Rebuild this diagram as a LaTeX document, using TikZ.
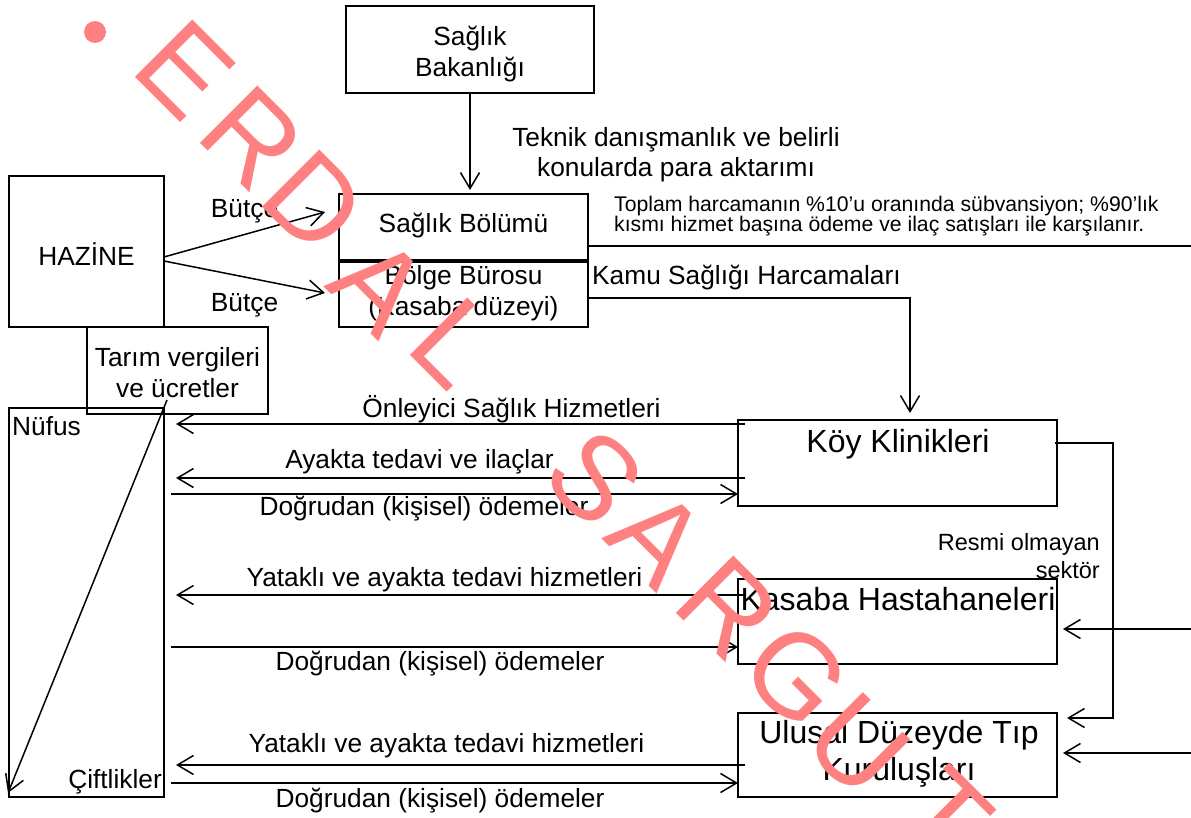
\documentclass[tikz,border=0pt]{standalone}
\usepackage{fontspec}
\setmainfont{Liberation Sans}
\usetikzlibrary{arrows.meta}
\definecolor{wmred}{RGB}{255,128,128}
\begin{document}
\begin{tikzpicture}[x=1pt,y=-1pt,
  box/.style={draw, line width=1.6pt, inner sep=0pt},
  conn/.style={line width=1.5pt, -{Straight Barb[length=16pt,width=19pt]}},
  plain/.style={line width=1.5pt},
  lbl/.style={anchor=base, inner sep=0pt, font=\fontsize{26.3}{30}\selectfont},
  lbll/.style={lbl, anchor=base west},
  lblr/.style={lbl, anchor=base east},
  sml/.style={anchor=base west, inner sep=0pt, font=\fontsize{21.2}{24}\selectfont},
  mid/.style={anchor=base east, inner sep=0pt, font=\fontsize{23.5}{28}\selectfont},
  big/.style={anchor=base, inner sep=0pt, font=\fontsize{32}{38}\selectfont},
  wm/.style={text=wmred, inner sep=0pt, rotate=-45, font=\fontsize{118}{120}\selectfont}
]
\useasboundingbox (0,0) rectangle (1191,818);

% boxes
\node[box, minimum width=248pt, minimum height=87pt] (bak) at (470,49.5) {};
\node[box, minimum width=155pt, minimum height=151pt] (haz) at (86.5,251.5) {};
\node[box, minimum width=249pt, minimum height=66pt] (sb) at (463.5,227) {};
\node[box, minimum width=249pt, minimum height=65pt] (bb) at (463.5,294.5) {};
\node[box, minimum width=155pt, minimum height=389pt] (nuf) at (86.5,602.5) {};
\node[box, minimum width=181pt, minimum height=87pt] (tar) at (177.5,370.5) {};
\node[box, minimum width=319pt, minimum height=86pt] (koy) at (897.5,463) {};
\node[box, minimum width=319pt, minimum height=85pt] (kas) at (897.5,621.5) {};
\node[box, minimum width=319pt, minimum height=84pt] (ulu) at (897.5,755) {};

% texts
\node[lbl] (bakt1) at (470,46) {Sağlık};
\node[lbl] (bakt2) at (470,77) {Bakanlığı};
\node[lbl] (tek1) at (676,147) {Teknik danışmanlık ve belirli};
\node[lbl] (tek2) at (676,177) {konularda para aktarımı};
\node[lbl] (hazt) at (86.5,266) {HAZİNE};
\node[lbl] (but1) at (244.5,218) {Bütçe};
\node[lbl] (but2) at (244.5,311) {Bütçe};
\node[lbl] (sbt) at (463.5,233) {Sağlık Bölümü};
\node[lbl] (bbt1) at (463.5,284) {Bölge Bürosu};
\node[lbl] (bbt2) at (463.5,316) {(Kasaba düzeyi)};
\node[sml] (top1) at (614,212) {Toplam harcamanın \%10’u oranında sübvansiyon; \%90’lık};
\node[sml] (top2) at (614,232) {kısmı hizmet başına ödeme ve ilaç satışları ile karşılanır.};
\node[lbll] (kamu) at (592,285) {Kamu Sağlığı Harcamaları};
\node[lbl] (tar1) at (177.5,366) {Tarım vergileri};
\node[lbl] (tar2) at (177.5,397) {ve ücretler};
\node[lbll] (nuft) at (12,435) {Nüfus};
\node[lblr] (cift) at (162,788) {Çiftlikler};
\node[big] (koyt) at (898,452) {Köy Klinikleri};
\node[big] (kast) at (898,610) {Kasaba Hastahaneleri};
\node[big] (ulut1) at (899,743) {Ulusal Düzeyde Tıp};
\node[big] (ulut2) at (899,780) {Kuruluşları};
\node[mid] (res1) at (1100,550) {Resmi olmayan};
\node[mid] (res2) at (1100,578) {sektör};
\node[lbl] (l1) at (511.5,417) {Önleyici Sağlık Hizmetleri};
\node[lbl] (l2) at (419.5,468) {Ayakta tedavi ve ilaçlar};
\node[lbl] (l3) at (424,515) {Doğrudan (kişisel) ödemeler};
\node[lbl] (l4) at (444.5,586) {Yataklı ve ayakta tedavi hizmetleri};
\node[lbl] (l5) at (440,670) {Doğrudan (kişisel) ödemeler};
\node[lbl] (l6) at (446.5,752) {Yataklı ve ayakta tedavi hizmetleri};
\node[lbl] (l7) at (440,807) {Doğrudan (kişisel) ödemeler};

% connector end points
\coordinate (sbtop) at (470,190);
\coordinate (h1) at (164,257);
\coordinate (h2) at (164,261);
\coordinate (bt1) at (325,212);
\coordinate (bt2) at (325,293);
\coordinate (sbr) at (588,246);
\coordinate (edge1) at (1191,246);
\coordinate (bbr) at (588,298);
\coordinate (kbend) at (910,298);
\coordinate (koytop) at (910,413);
\coordinate (dg1) at (167,400);
\coordinate (dg2) at (8,793);
\coordinate (kr1) at (1055,443);
\coordinate (kr2) at (1113,443);
\coordinate (kr3) at (1113,718);
\coordinate (ulr) at (1067,718);
\coordinate (e2) at (1191,629);
\coordinate (kasr) at (1063,629);
\coordinate (e3) at (1191,753);
\coordinate (ulr2) at (1063,753);
\coordinate (a1s) at (745,424);  \coordinate (a1e) at (176,424);
\coordinate (a2s) at (745,478);  \coordinate (a2e) at (176,478);
\coordinate (a3s) at (171,494);  \coordinate (a3e) at (738,494);
\coordinate (a4s) at (745,595);  \coordinate (a4e) at (176,595);
\coordinate (a5s) at (171,647);  \coordinate (a5e) at (738,647);
\coordinate (a6s) at (745,765);  \coordinate (a6e) at (176,765);
\coordinate (a7s) at (171,783);  \coordinate (a7e) at (738,783);

% connectors
\draw[conn] (bak.south) -- (sbtop);
\draw[conn] (h1) -- (bt1);
\draw[conn] (h2) -- (bt2);
\draw[plain] (sbr) -- (edge1);
\draw[conn] (bbr) -- (kbend) -- (koytop);
\draw[conn] (dg1) -- (dg2);
\draw[conn] (kr1) -- (kr2) -- (kr3) -- (ulr);
\draw[conn] (e2) -- (kasr);
\draw[conn] (e3) -- (ulr2);
\draw[conn] (a1s) -- (a1e);
\draw[conn] (a2s) -- (a2e);
\draw[conn] (a3s) -- (a3e);
\draw[conn] (a4s) -- (a4e);
\draw[conn] (a5s) -- (a5e);
\draw[conn] (a6s) -- (a6e);
\draw[conn] (a7s) -- (a7e);

% watermark
\node[circle, fill=wmred, minimum size=22pt, inner sep=0pt] (wmdot) at (95,32) {};
\node[wm] (w1) at (185,70) {E};
\node[wm] (w2) at (252,138) {R};
\node[wm] (w3) at (314,202) {D};
\node[wm] (w4) at (380,286) {A};
\node[wm] (w5) at (455,343) {L};
\node[wm] (w6) at (595,478) {S};
\node[wm] (w7) at (658,538) {A};
\node[wm] (w8) at (728,608) {R};
\node[wm] (w9) at (797,675) {G};
\node[wm] (w10) at (858,745) {U};
\node[wm] (w11) at (945,815) {T};
\end{tikzpicture}
\end{document}
